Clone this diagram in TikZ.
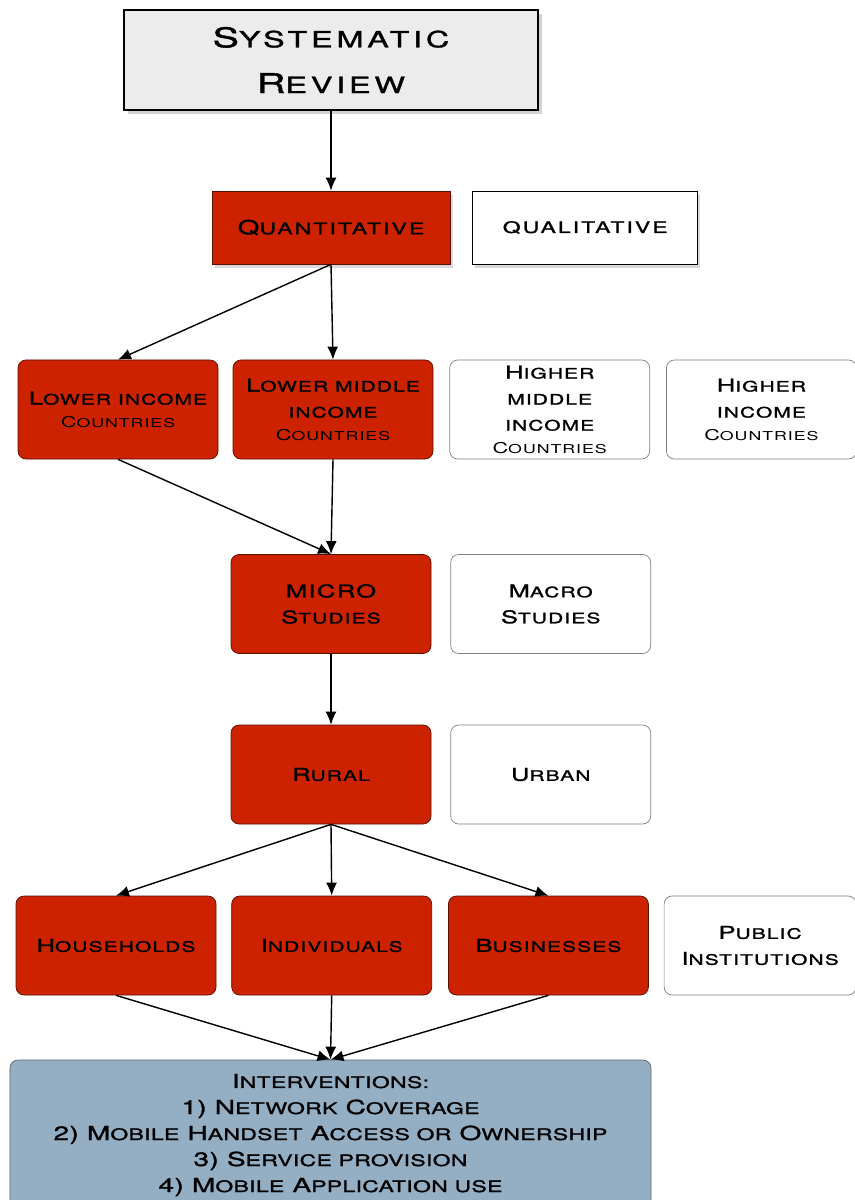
\documentclass[tikz,border=0pt]{standalone}
\usepackage{fontspec}
\usepackage{graphicx}
\usetikzlibrary{positioning,shadows,arrows.meta}
\newfontfamily\lblfont[FakeStretch=1.45,LetterSpace=8,FakeBold=1.4]{TeX Gyre Heros}
\newfontfamily\thinfont[FakeStretch=1.45,LetterSpace=8]{TeX Gyre Heros}
\newcommand\lc[1]{\scalebox{0.82}{#1}}
\newcommand\cty{{\thinfont\fontsize{8.5}{11}\selectfont C\lc{OUNTRIES}}}
\definecolor{boxred}{RGB}{204,34,0}
\definecolor{redline}{RGB}{90,15,0}
\definecolor{boxblue}{RGB}{148,174,195}
\begin{document}
\begin{tikzpicture}[thick, >={Latex[length=2.6mm,width=2.2mm]},
		base/.style={align=center, inner sep=1pt, text=black},
		topbox/.style={base, draw=black, line width=1.6pt, fill=gray!15,
			minimum width=8.28cm, minimum height=2cm,
			font=\lblfont\addfontfeatures{LetterSpace=17}\fontsize{15.5}{26}\selectfont,
			drop shadow={shadow xshift=0.07cm, shadow yshift=-0.09cm, opacity=0.35}},
		sqred/.style={base, draw=redline, thin, fill=boxred, minimum width=4.76cm,
			minimum height=1.46cm,
			font=\lblfont\addfontfeatures{LetterSpace=13}\fontsize{11}{14}\selectfont,
			drop shadow={shadow xshift=0.05cm, shadow yshift=-0.09cm, opacity=0.3}},
		sqwhite/.style={sqred, draw=black, fill=white, minimum width=4.5cm},
		redbox/.style={base, draw=redline, thin, fill=boxred, rounded corners=1.6mm,
			minimum width=4cm, minimum height=1.98cm,
			font=\lblfont\fontsize{10}{14.8}\selectfont},
		whitebox/.style={redbox, draw=gray, fill=white},
		bluebox/.style={redbox, draw=gray!80!black, fill=boxblue,
			minimum width=12.82cm, minimum height=3cm,
			font=\lblfont\addfontfeatures{LetterSpace=2}\fontsize{11}{14.8}\selectfont}]
	\useasboundingbox (0,0) rectangle (17.08,-24);
	% top of the tree
	\node[topbox] (sr) at (6.62,-1.2) {S\lc{YSTEMATIC}\\R\lc{EVIEW}};
	\node[sqred] (quant) at (6.62,-4.55) {Q\lc{UANTITATIVE}};
	\node[sqwhite] (qual) [right=0.44cm of quant] {\lc{QUALITATIVE}};
	% income groups
	\node[redbox] (lowinc) at (2.36,-8.19) {L\lc{OWER INCOME}\\[-2pt]\cty};
	\node[redbox] (lowmid) at (6.66,-8.19) {L\lc{OWER MIDDLE}\\\lc{INCOME}\\[-2pt]\cty};
	\node[whitebox] (highmid) [right=0.32cm of lowmid] {H\lc{IGHER}\\\lc{MIDDLE}\\\lc{INCOME}\\[-2pt]\cty};
	\node[whitebox, minimum width=3.8cm] (highinc) [right=0.32cm of highmid] {H\lc{IGHER}\\\lc{INCOME}\\[-2pt]\cty};
	% study level and setting
	\node[redbox] (micro) at (6.62,-12.08) {MICRO\\S\lc{TUDIES}};
	\node[whitebox] (macro) [right=0.38cm of micro] {M\lc{ACRO}\\S\lc{TUDIES}};
	\node[redbox] (rural) at (6.62,-15.49) {R\lc{URAL}};
	\node[whitebox] (urban) [right=0.38cm of rural] {U\lc{RBAN}};
	% units
	\node[redbox] (hh) at (2.32,-18.91) {H\lc{OUSEHOLDS}};
	\node[redbox] (ind) [right=0.3cm of hh] {I\lc{NDIVIDUALS}};
	\node[redbox] (biz) [right=0.32cm of ind] {B\lc{USINESSES}};
	\node[whitebox, minimum width=3.84cm] (pub) [right=0.3cm of biz] {P\lc{UBLIC}\\I\lc{NSTITUTIONS}};
	\node[bluebox] (interv) at (6.61,-22.7) {I\lc{NTERVENTIONS:}\\1) N\lc{ETWORK} C\lc{OVERAGE}\\2) M\lc{OBILE} H\lc{ANDSET} A\lc{CCESS OR} O\lc{WNERSHIP}\\3) S\lc{ERVICE PROVISION}\\4) M\lc{OBILE} A\lc{PPLICATION USE}};
	% arrows
	\draw[->] (sr) -- (quant);
	\draw[->] (quant.south) -- (lowinc.north);
	\draw[->] (quant.south) -- (lowmid.north);
	\draw[->] (lowinc.south) -- (micro.north);
	\draw[->] (lowmid.south) -- (micro.north);
	\draw[->] (micro) -- (rural);
	\draw[->] (rural.south) -- (hh.north);
	\draw[->] (rural.south) -- (ind.north);
	\draw[->] (rural.south) -- (biz.north);
	\draw[->] (hh.south) -- (interv.north);
	\draw[->] (ind.south) -- (interv.north);
	\draw[->] (biz.south) -- (interv.north);
\end{tikzpicture}
\end{document}
